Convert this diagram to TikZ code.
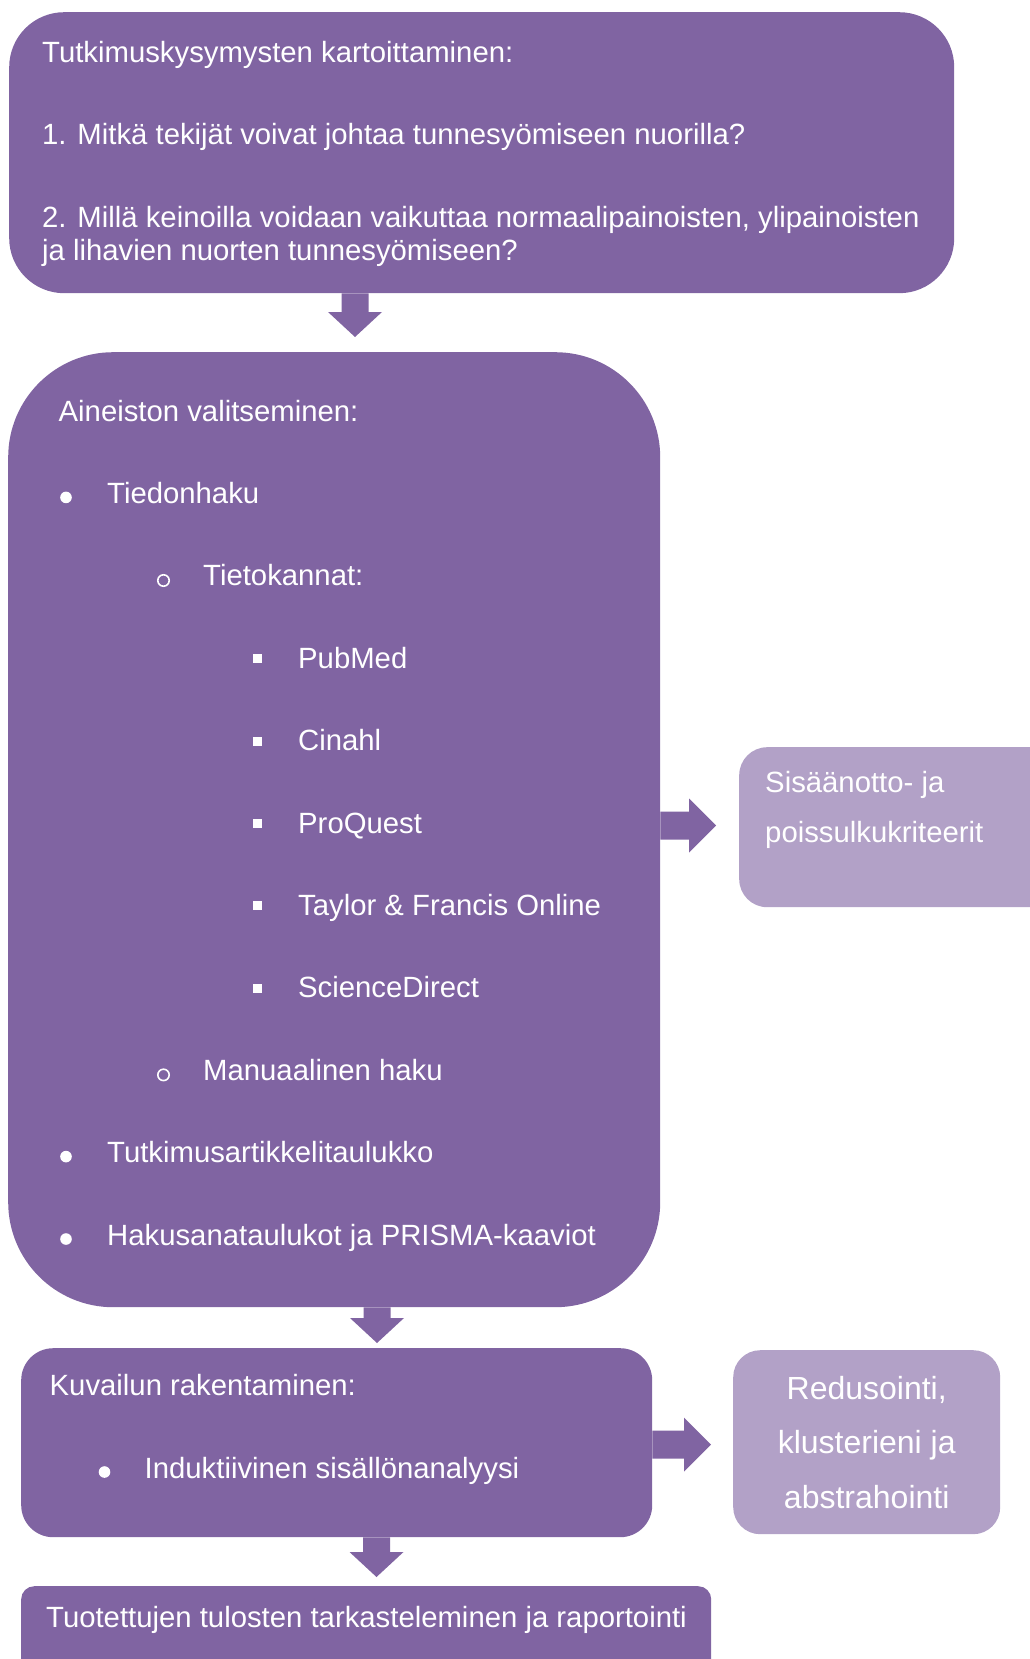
\documentclass[tikz,border=0pt]{standalone}
\usepackage{fontspec}
\setmainfont{Liberation Sans}
\usetikzlibrary{calc}

\definecolor{boxpurple}{RGB}{128,100,162}
\definecolor{sidepurple}{RGB}{178,161,199}

\tikzset{
  box/.style={fill=boxpurple, anchor=north west, inner sep=0pt},
  sidebox/.style={fill=sidepurple, anchor=north west, inner sep=0pt},
  txt/.style={anchor=base west, inner sep=0pt, text=white, font=\fontsize{29.3pt}{35pt}\selectfont},
  fatdown/.style={to path={($(\tikztostart)+(-13.5,0)$) -- ($(\tikztotarget)+(-13.5,-25)$)
    -- ($(\tikztotarget)+(-27,-25)$) -- (\tikztotarget) -- ($(\tikztotarget)+(27,-25)$)
    -- ($(\tikztotarget)+(13.5,-25)$) -- ($(\tikztostart)+(13.5,0)$) -- cycle}},
  fatright/.style={to path={($(\tikztostart)+(0,-14)$) -- ($(\tikztotarget)+(-27,-14)$)
    -- ($(\tikztotarget)+(-27,-27)$) -- (\tikztotarget) -- ($(\tikztotarget)+(-27,27)$)
    -- ($(\tikztotarget)+(-27,14)$) -- ($(\tikztostart)+(0,14)$) -- cycle}}
}

\begin{document}
\begin{tikzpicture}[x=1pt, y=-1pt]
\useasboundingbox (0,0) rectangle (1029,1659);

% boxes
\node[box, rounded corners=55pt, minimum width=945pt, minimum height=281pt] (questions) at (9,12) {};
\node[box, rounded corners=105pt, minimum width=652pt, minimum height=955pt] (selection) at (8,352) {};
\node[sidebox, rounded corners=28pt, minimum width=330pt, minimum height=160pt] (criteria) at (739,747) {};
\node[box, rounded corners=32pt, minimum width=631pt, minimum height=189pt] (description) at (21,1348) {};
\node[sidebox, rounded corners=27pt, minimum width=267pt, minimum height=184pt] (reduction) at (733,1350) {};
\node[box, rounded corners=13pt, minimum width=690pt, minimum height=120pt] (results) at (21,1586) {};

% block arrows
\coordinate (a1s) at (questions.south -| 355,0);
\coordinate (a1t) at ($(selection.north -| 355,0)+(0,-15)$);
\coordinate (a2s) at (selection.east |- 0,825.5);
\coordinate (a2t) at ($(criteria.west |- 0,825.5)+(-23,0)$);
\coordinate (a3s) at (selection.south -| 377,0);
\coordinate (a3t) at ($(description.north -| 377,0)+(0,-5)$);
\coordinate (a4s) at (description.east |- 0,1444.5);
\coordinate (a4t) at ($(reduction.west |- 0,1444.5)+(-22,0)$);
\coordinate (a5s) at (description.south -| 376.5,0);
\coordinate (a5t) at ($(results.north -| 376.5,0)+(0,-9)$);
\fill[boxpurple] (a1s) to[fatdown] (a1t);
\fill[boxpurple] (a2s) to[fatright] (a2t);
\fill[boxpurple] (a3s) to[fatdown] (a3t);
\fill[boxpurple] (a4s) to[fatright] (a4t);
\fill[boxpurple] (a5s) to[fatdown] (a5t);

% research questions
\foreach \y/\t [count=\i] in {63/{Tutkimuskysymysten kartoittaminen:},
    145/{1. Mitkä tekijät voivat johtaa tunnesyömiseen nuorilla?},
    227/{2. Millä keinoilla voidaan vaikuttaa normaalipainoisten, ylipainoisten},
    260/{ja lihavien nuorten tunnesyömiseen?}}
  \node[txt] (q\i) at (42,\y) {\t};

% material selection list
\foreach \y/\x/\t [count=\i] in {421/58.5/{Aineiston valitseminen:},
    503.4/107/{Tiedonhaku}, 585.8/203/{Tietokannat:},
    668.2/298/{PubMed}, 750.6/298/{Cinahl}, 833/298/{ProQuest},
    915.4/298/{Taylor \& Francis Online}, 997.8/298/{ScienceDirect},
    1080.2/203/{Manuaalinen haku}, 1162.6/107/{Tutkimusartikkelitaulukko},
    1245/107/{Hakusanataulukot ja PRISMA-kaaviot}}
  \node[txt] (s\i) at (\x,\y) {\t};
\foreach \y in {503.4,1162.6,1245}
  \fill[white] (66,\y-6) circle[radius=5.8pt];
\foreach \y in {585.8,1080.2}
  \draw[white, line width=1.6pt] (163.5,\y-5.3) circle[radius=5.7pt];
\foreach \y in {668.2,750.6,833,915.4,997.8}
  \fill[white] (253,\y-5) rectangle ++(9,-9);

% side boxes
\node[txt] (c1) at (765,792) {Sisäänotto- ja};
\node[txt] (c2) at (765,842) {poissulkukriteerit};
\foreach \y/\t [count=\i] in {1399/{Redusointi,}, 1453/{klusterieni ja}, 1508/{abstrahointi}}
  \node[txt, anchor=base, font=\fontsize{32pt}{38pt}\selectfont] (r\i) at (reduction.center |- 0,\y) {\t};

% description and results
\node[txt] (d1) at (49.5,1395) {Kuvailun rakentaminen:};
\fill[white] (104.5,1472) circle[radius=5.8pt];
\node[txt] (d2) at (144.5,1478) {Induktiivinen sisällönanalyysi};
\node[txt] (t1) at (46,1627) {Tuotettujen tulosten tarkasteleminen ja raportointi};
\end{tikzpicture}
\end{document}
